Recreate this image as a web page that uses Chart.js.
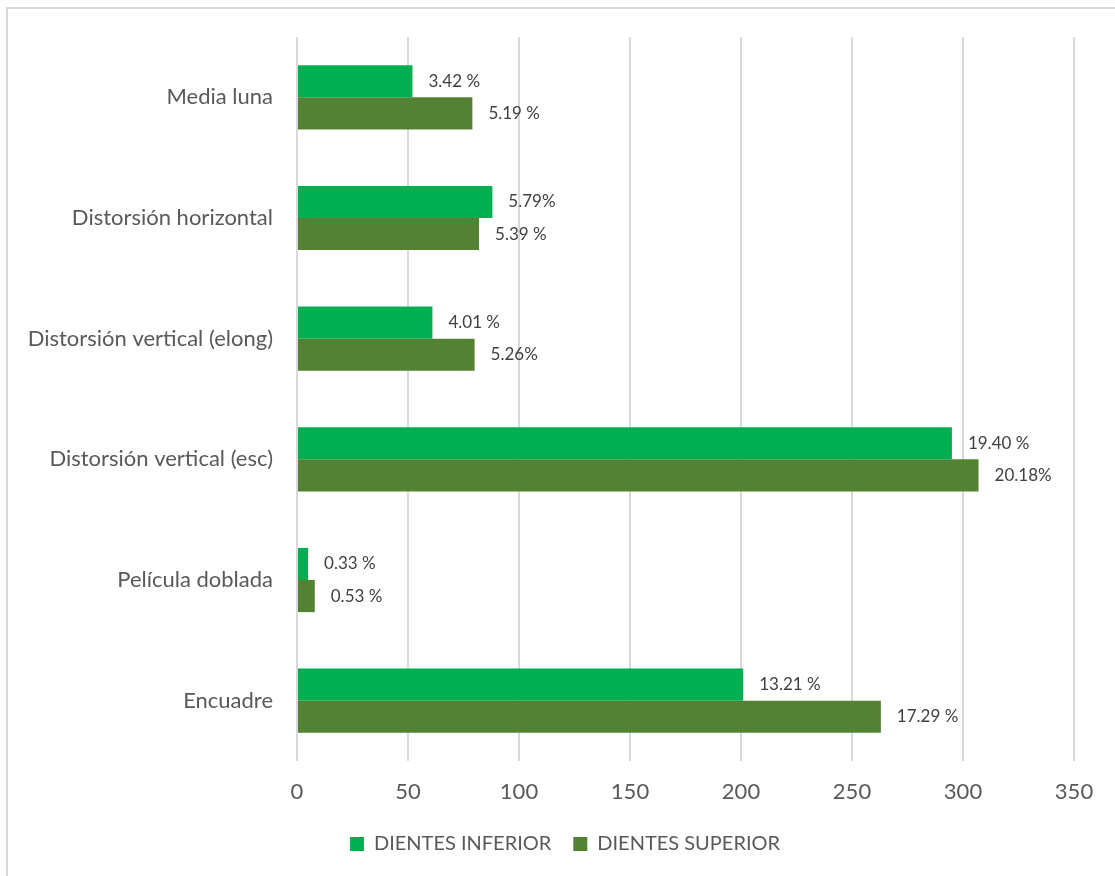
<!DOCTYPE html>
<html>
<head>
<meta charset="utf-8">
<script src="https://cdn.jsdelivr.net/npm/chart.js@4/dist/chart.umd.min.js"></script>
<style>
	html, body { margin: 0; padding: 0; background: #fff; }
	#wrap { position: relative; width: 1115px; height: 876px; overflow: hidden; }
	#frame {
		position: absolute; left: 6px; top: 7px; width: 1200px; height: 1000px;
		border-top: 2px solid #d9d9d9; border-left: 2px solid #d9d9d9;
	}
	#chart { position: absolute; left: 0; top: 0; }
</style>
</head>
<body>
<div id="wrap">
	<div id="frame"></div>
	<canvas id="chart" width="1115" height="876"></canvas>
</div>
<script>
const categories = [
	'Media luna',
	'Distorsión horizontal',
	'Distorsión vertical (elong)',
	'Distorsión vertical (esc)',
	'Película doblada',
	'Encuadre'
];
const inferiorValues = [52, 88, 61, 295, 5, 201];
const superiorValues = [79, 82, 80, 307, 8, 263];
const inferiorLabels = ['3.42 %', '5.79%', '4.01 %', '19.40 %', '0.33 %', '13.21 %'];
const superiorLabels = ['5.19 %', '5.39 %', '5.26%', '20.18%', '0.53 %', '17.29 %'];
const xTicks = [0, 50, 100, 150, 200, 250, 300, 350];

const FONT = 'Lato, "Liberation Sans", sans-serif';
const TEXT = '#595959';

// percentage text next to the end of each bar
const valueLabels = {
	id: 'valueLabels',
	afterDatasetsDraw: function (chart) {
		const ctx = chart.ctx;
		ctx.save();
		ctx.font = '17px ' + FONT;
		ctx.fillStyle = '#404040';
		ctx.textAlign = 'left';
		ctx.textBaseline = 'middle';
		chart.data.datasets.forEach((ds, i) => {
			chart.getDatasetMeta(i).data.forEach((bar, j) => {
				ctx.fillText(ds.valueText[j], bar.x + 16, bar.y);
			});
		});
		ctx.restore();
	}
};

// nudge the legend row a little to the right of the canvas centre
const legendShift = {
	id: 'legendShift',
	afterLayout: function (chart) {
		chart.legend.left += 28;
		chart.legend.right += 28;
	}
};

new Chart(document.getElementById('chart').getContext('2d'), {
	type: 'bar',
	data: {
		labels: categories,
		datasets: [{
			label: 'DIENTES INFERIOR',
			data: inferiorValues,
			valueText: inferiorLabels,
			backgroundColor: '#00b050'
		}, {
			label: 'DIENTES SUPERIOR',
			data: superiorValues,
			valueText: superiorLabels,
			backgroundColor: '#548235'
		}]
	},
	options: {
		indexAxis: 'y',
		responsive: false,
		animation: false,
		maintainAspectRatio: false,
		datasets: {
			bar: { categoryPercentage: 0.532, barPercentage: 1.0 }
		},
		layout: {
			padding: { left: 0, right: 41, top: 37, bottom: 12 }
		},
		scales: {
			x: {
				min: 0,
				max: 350,
				afterBuildTicks: (scale) => { scale.ticks = xTicks.map(v => ({ value: v })); },
				afterFit: (scale) => { scale.height = 51; },
				grid: { color: '#d9d9d9', lineWidth: 2, drawTicks: false },
				border: { display: false },
				ticks: { color: TEXT, font: { family: FONT, size: 22 }, padding: 18 }
			},
			y: {
				afterFit: (scale) => { scale.width = 297; },
				grid: { display: false },
				border: { display: false },
				ticks: { color: TEXT, font: { family: FONT, size: 22 }, padding: 16 }
			}
		},
		plugins: {
			legend: {
				position: 'bottom',
				labels: {
					color: TEXT,
					font: { family: FONT, size: 20 },
					boxWidth: 14,
					boxHeight: 14,
					padding: 22,
					useBorderRadius: false
				}
			},
			tooltip: { enabled: false }
		}
	},
	plugins: [valueLabels, legendShift]
});
</script>
</body>
</html>
